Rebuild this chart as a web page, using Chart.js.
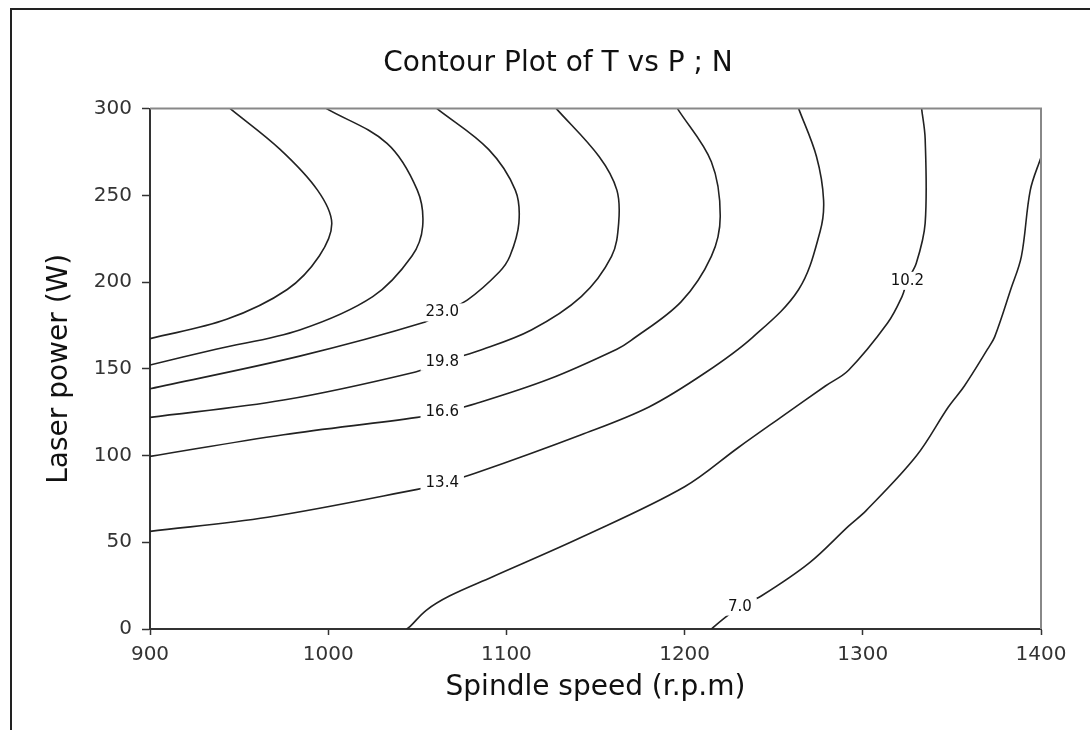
<!DOCTYPE html>
<html>
<head>
<meta charset="utf-8">
<script src="https://cdn.jsdelivr.net/npm/chart.js@4.4.1/dist/chart.umd.min.js"></script>
<style>
  body { margin: 0; background: #fff; }
  #marco { position: absolute; left: 10px; top: 8px; width: 1080px; height: 722px;
           border-top: 2px solid #222; border-left: 2px solid #222; }
  #contenedor { position: absolute; left: 0; top: 0; width: 1090px; height: 730px; }
</style>
</head>
<body>
<div id="marco"></div>
<div id="contenedor"><canvas id="grafica"></canvas></div>
<script>
// Curvas de nivel: velocidad del husillo (x) y potencia del láser (y)
const xA = [945, 973, 994, 1002, 995, 977, 943, 900];
const yA = [300, 276.5, 253, 234, 215, 195.7, 178.5, 167.4];
const xB = [999, 1033, 1050, 1053, 1047, 1025, 984, 937, 900];
const yB = [300, 280, 253, 232, 215, 191.6, 172.4, 161.3, 152.2];
const xC = [1061, 1090, 1105, 1107, 1102, 1096, 1078, 1064, 1053, 984, 900];
const yC = [300, 276.5, 253, 234, 215, 205.8, 189.6, 182.5, 176.5, 157.3, 138.5];
const xD = [1128, 1152, 1162, 1163, 1159, 1142, 1114, 1084, 1064, 1049, 975, 900];
const yD = [300, 272.4, 253, 234, 214.8, 191.6, 172.4, 160.3, 154, 148.2, 132, 122];
const xE = [1196, 1215, 1220, 1215, 1198, 1170, 1162, 1124, 1083, 1064, 1050, 975, 900];
const yE = [300, 269.4, 238, 214.8, 188.6, 166.4, 161.3, 144.1, 130, 125, 122, 112, 99.5];
const xF = [1264, 1274, 1278, 1276, 1264, 1238, 1212, 1180, 1142, 1082, 1064, 1050, 966, 900];
const yF = [300, 272.4, 247.2, 229, 195.7, 168, 148, 128, 112, 89.6, 84, 80.5, 64.4, 56.3];
const xG = [1333, 1335, 1335, 1330, 1325, 1322, 1314, 1292, 1279, 1254, 1230, 1200, 1143, 1092, 1068, 1055, 1046, 1044];
const yG = [300, 282.5, 234, 210.8, 200.7, 191.6, 176.5, 149.2, 140.1, 122, 104.5, 82, 53.3, 30, 19, 10.8, 1.5, 0];
const xH = [1400, 1394, 1389, 1383, 1374, 1370, 1357, 1348, 1330, 1302, 1292, 1270, 1243, 1231, 1223, 1215];
const yH = [272, 253, 214.8, 195.7, 168.4, 161.3, 140.1, 128, 99.7, 68.4, 59.3, 38.1, 19, 12.9, 6.8, 0];

const curvasX = [xA, xB, xC, xD, xE, xF, xG, xH];
const curvasY = [yA, yB, yC, yD, yE, yF, yG, yH];
const etiquetasNivel = ['', '', '23.0', '19.8', '16.6', '13.4', '10.2', '7.0'];
const indiceEtiqueta = [-1, -1, 7, 8, 9, 10, 4, 13];

const ticksX = [900, 1000, 1100, 1200, 1300, 1400];
const ticksY = [0, 50, 100, 150, 200, 250, 300];

const fuente = "'DejaVu Sans', Verdana, sans-serif";

const datasets = curvasX.map((xs, i) => ({
  label: etiquetasNivel[i],
  data: xs.map((x, j) => ({ x: x, y: curvasY[i][j] })),
  showLine: true,
  borderColor: '#222',
  borderWidth: 1.6,
  pointRadius: 0,
  tension: 0.35,
  fill: false
}));

// Etiquetas sobre las curvas, con hueco blanco
const etiquetasCurvas = {
  id: 'etiquetasCurvas',
  afterDatasetsDraw(chart) {
    const ctx = chart.ctx;
    ctx.save();
    ctx.font = "15px " + fuente;
    ctx.textAlign = 'center';
    ctx.textBaseline = 'middle';
    chart.data.datasets.forEach((ds, i) => {
      const k = indiceEtiqueta[i];
      if (k < 0) return;
      const p = chart.getDatasetMeta(i).data[k];
      const w = ctx.measureText(ds.label).width;
      ctx.fillStyle = '#fff';
      ctx.fillRect(p.x - w / 2 - 5, p.y - 9, w + 10, 18);
      ctx.fillStyle = '#111';
      ctx.fillText(ds.label, p.x, p.y);
    });
    ctx.restore();
  }
};

// Marco superior y derecho del área, y título centrado sobre el gráfico
const marcoArea = {
  id: 'marcoArea',
  afterLayout(chart) {
    if (chart.titleBlock) chart.titleBlock.left = 75;
  },
  afterDraw(chart) {
    const a = chart.chartArea;
    const ctx = chart.ctx;
    ctx.save();
    ctx.strokeStyle = '#888';
    ctx.lineWidth = 2;
    ctx.beginPath();
    ctx.moveTo(a.left, a.top);
    ctx.lineTo(a.right, a.top);
    ctx.lineTo(a.right, a.bottom);
    ctx.stroke();
    ctx.restore();
  }
};

new Chart(document.getElementById('grafica'), {
  type: 'scatter',
  data: { datasets: datasets },
  plugins: [etiquetasCurvas, marcoArea],
  options: {
    responsive: true,
    maintainAspectRatio: false,
    animation: false,
    layout: { padding: { top: 0, right: 49, bottom: 0, left: 0 } },
    plugins: {
      legend: { display: false },
      tooltip: { enabled: false },
      title: {
        display: true,
        text: 'Contour Plot of T vs P ; N',
        color: '#111',
        font: { family: fuente, size: 28, weight: 'normal', lineHeight: 1.2 },
        padding: { top: 47, bottom: 28 }
      }
    },
    scales: {
      x: {
        type: 'linear',
        min: 900,
        max: 1400,
        afterFit: s => { s.height = 101; },
        afterBuildTicks: s => { s.ticks = ticksX.map(v => ({ value: v })); },
        ticks: {
          color: '#333',
          font: { family: fuente, size: 20 },
          padding: 8,
          maxRotation: 0,
          callback: v => String(v)
        },
        grid: { drawOnChartArea: false, drawTicks: true, tickLength: 6, tickColor: '#333', tickWidth: 1.5 },
        border: { display: true, color: '#333', width: 2 },
        title: {
          display: true,
          text: 'Spindle speed (r.p.m)',
          color: '#111',
          font: { family: fuente, size: 28, lineHeight: 1.2 },
          padding: { top: 0, bottom: 25 }
        }
      },
      y: {
        type: 'linear',
        min: 0,
        max: 300,
        afterFit: s => { s.width = 150; },
        afterBuildTicks: s => { s.ticks = ticksY.map(v => ({ value: v })); },
        ticks: {
          color: '#333',
          font: { family: fuente, size: 20 },
          padding: 10,
          callback: v => String(v)
        },
        grid: { drawOnChartArea: false, drawTicks: true, tickLength: 8, tickColor: '#333', tickWidth: 1.5 },
        border: { display: true, color: '#333', width: 2 },
        title: {
          display: true,
          text: 'Laser power (W)',
          color: '#111',
          font: { family: fuente, size: 28, lineHeight: 1.2 },
          padding: { top: 43, bottom: 0 }
        }
      }
    }
  }
});
</script>
</body>
</html>
